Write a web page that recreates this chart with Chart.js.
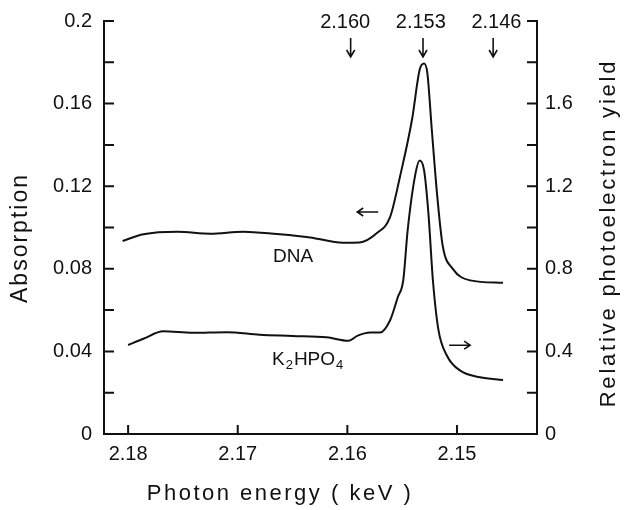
<!DOCTYPE html>
<html>
<head>
<meta charset="utf-8">
<script src="https://cdn.jsdelivr.net/npm/chart.js@4"></script>
<style>
  html, body { margin: 0; padding: 0; background: #fff; }
</style>
</head>
<body>
<canvas id="chart" width="625" height="510"></canvas>
<script>
// DNA absorption (left axis)
const dnaEnergy = [2.1805, 2.1786, 2.1755, 2.1725, 2.1695, 2.1664, 2.1634, 2.1604, 2.1589, 2.1573, 2.1561,
  2.1552, 2.1541, 2.1534, 2.1530, 2.1527, 2.1523, 2.1518, 2.1513, 2.1504, 2.1488, 2.1458];
const dnaAbsorption = [0.0935, 0.0967, 0.0979, 0.0970, 0.0980, 0.0968, 0.0952, 0.0926, 0.0927, 0.0973, 0.1051,
  0.1246, 0.1523, 0.1765, 0.1794, 0.1746, 0.1476, 0.1152, 0.0911, 0.0801, 0.0744, 0.0732];

// K2HPO4 relative photoelectron yield (right axis)
const k2Energy = [2.1800, 2.1786, 2.1768, 2.1741, 2.1710, 2.1680, 2.1650, 2.1619, 2.1599, 2.1591, 2.1579,
  2.1570, 2.1561, 2.1554, 2.1549, 2.1545, 2.1538, 2.1534, 2.1530, 2.1526, 2.1522, 2.1517, 2.1509, 2.1497,
  2.1479, 2.1458];
const k2Yield = [0.431, 0.461, 0.497, 0.490, 0.493, 0.481, 0.475, 0.468, 0.451, 0.475, 0.491,
  0.492, 0.551, 0.662, 0.745, 0.986, 1.257, 1.324, 1.277, 1.065, 0.747, 0.507, 0.378, 0.307,
  0.275, 0.262];

const xTicks = [2.18, 2.17, 2.16, 2.15];
const leftLabelTicks = [0, 0.04, 0.08, 0.12, 0.16, 0.2];
const leftMinorTicks = [0.02, 0.04, 0.06, 0.08, 0.10, 0.12, 0.14, 0.16, 0.18, 0.2];
const rightLabelTicks = [0, 0.4, 0.8, 1.2, 1.6];
const rightMinorTicks = [0.2, 0.4, 0.6, 0.8, 1.0, 1.2, 1.4, 1.6, 1.8, 2.0];
const markerLabels = ['2.160', '2.153', '2.146'];
// where the printed markers sit on the energy axis (arrow, label centre)
const markerArrowAt = [2.1597, 2.1531, 2.1467];
const markerLabelAt = [2.1602, 2.1533, 2.1464];

const ink = '#111';
Chart.defaults.font.family = "'Liberation Sans', Arial, sans-serif";
Chart.defaults.color = ink;

function spacedText(ctx, text, x, y, spacing) {
  ctx.letterSpacing = spacing + 'px';
  ctx.fillText(text, x, y);
  ctx.letterSpacing = '0px';
}

// inward ticks, energy markers, arrows, labels and axis titles
const decor = {
  id: 'decor',
  afterDraw(chart) {
    const { ctx, chartArea: a, scales: { x, y, y2 } } = chart;
    ctx.save();
    ctx.strokeStyle = ink;
    ctx.fillStyle = ink;
    ctx.lineWidth = 2;

    ctx.beginPath();
    leftMinorTicks.forEach(v => {
      const py = y.getPixelForValue(v);
      ctx.moveTo(a.left, py); ctx.lineTo(a.left + 10, py);
    });
    rightMinorTicks.forEach(v => {
      const py = y2.getPixelForValue(v);
      ctx.moveTo(a.right, py); ctx.lineTo(a.right - 10, py);
    });
    xTicks.forEach(v => {
      const px = x.getPixelForValue(v);
      ctx.moveTo(px, a.bottom); ctx.lineTo(px, a.bottom - 9);
    });
    ctx.stroke();

    // energy markers on top
    ctx.font = "20px 'Liberation Sans', Arial, sans-serif";
    ctx.textAlign = 'center';
    ctx.textBaseline = 'middle';
    ctx.lineWidth = 1.6;
    markerLabels.forEach((lab, i) => {
      ctx.fillText(lab, x.getPixelForValue(markerLabelAt[i]), 22);
      const px = x.getPixelForValue(markerArrowAt[i]);
      ctx.beginPath();
      ctx.moveTo(px, 38); ctx.lineTo(px, 57);
      ctx.moveTo(px - 4, 50); ctx.lineTo(px, 57); ctx.lineTo(px + 4, 50);
      ctx.stroke();
    });

    // axis arrows
    const ax1 = x.getPixelForValue(2.1591), ay1 = y.getPixelForValue(0.1075);
    ctx.beginPath();
    ctx.moveTo(ax1, ay1); ctx.lineTo(ax1 + 21, ay1);
    ctx.moveTo(ax1 + 6, ay1 - 4); ctx.lineTo(ax1, ay1); ctx.lineTo(ax1 + 6, ay1 + 4);
    ctx.stroke();
    const ax2 = x.getPixelForValue(2.1488), ay2 = y2.getPixelForValue(0.43);
    ctx.beginPath();
    ctx.moveTo(ax2 - 21, ay2); ctx.lineTo(ax2, ay2);
    ctx.moveTo(ax2 - 6, ay2 - 4); ctx.lineTo(ax2, ay2); ctx.lineTo(ax2 - 6, ay2 + 4);
    ctx.stroke();

    // curve labels
    ctx.textAlign = 'left';
    ctx.textBaseline = 'alphabetic';
    ctx.font = "19px 'Liberation Sans', Arial, sans-serif";
    ctx.fillText('DNA', 273, 262);
    let kx = 272;
    const parts = [['K', 19, 0], ['2', 13, 4], ['HPO', 19, 0], ['4', 13, 4]];
    parts.forEach(([t, size, drop]) => {
      ctx.font = size + "px 'Liberation Sans', Arial, sans-serif";
      ctx.fillText(t, kx, 365 + drop);
      kx += ctx.measureText(t).width + 1;
    });

    // axis titles
    ctx.textAlign = 'center';
    ctx.font = "22px 'Liberation Sans', Arial, sans-serif";
    spacedText(ctx, 'Photon energy ( keV )', 280, 500, 2.5);

    ctx.textBaseline = 'middle';
    ctx.save();
    ctx.translate(21, 238);
    ctx.rotate(-Math.PI / 2);
    ctx.font = "23px 'Liberation Sans', Arial, sans-serif";
    spacedText(ctx, 'Absorption', 0, 0, 2);
    ctx.restore();

    ctx.save();
    ctx.translate(609, 233);
    ctx.rotate(-Math.PI / 2);
    ctx.font = "22px 'Liberation Sans', Arial, sans-serif";
    spacedText(ctx, 'Relative photoelectron yield', 0, 0, 2.8);
    ctx.restore();

    ctx.restore();
  }
};

const lineStyle = {
  borderColor: ink,
  borderWidth: 2,
  pointRadius: 0,
  fill: false,
  cubicInterpolationMode: 'monotone'
};

new Chart(document.getElementById('chart'), {
  type: 'line',
  data: {
    datasets: [
      { ...lineStyle, label: 'DNA', yAxisID: 'y',
        data: dnaEnergy.map((e, i) => ({ x: e, y: dnaAbsorption[i] })) },
      { ...lineStyle, label: 'K2HPO4', yAxisID: 'y2',
        data: k2Energy.map((e, i) => ({ x: e, y: k2Yield[i] })) }
    ]
  },
  options: {
    responsive: false,
    animation: false,
    layout: { padding: { top: 21, left: 0, right: 0, bottom: 0 } },
    plugins: { legend: { display: false }, tooltip: { enabled: false } },
    scales: {
      x: {
        type: 'linear',
        reverse: true,
        min: 2.1427,
        max: 2.1822,
        afterBuildTicks: s => { s.ticks = xTicks.map(v => ({ value: v })); },
        afterFit: s => { s.height = 76; },
        grid: { display: false },
        border: { color: ink, width: 2 },
        ticks: { font: { size: 20 }, padding: 0, maxRotation: 0, callback: v => v.toFixed(2) }
      },
      y: {
        position: 'left',
        min: 0,
        max: 0.2,
        afterBuildTicks: s => { s.ticks = leftLabelTicks.map(v => ({ value: v })); },
        afterFit: s => { s.width = 104; },
        grid: { display: false },
        border: { color: ink, width: 2 },
        ticks: { font: { size: 20 }, padding: 4, callback: v => String(+v.toFixed(2)) }
      },
      y2: {
        position: 'right',
        min: 0,
        max: 2,
        afterBuildTicks: s => { s.ticks = rightLabelTicks.map(v => ({ value: v })); },
        afterFit: s => { s.width = 88; },
        grid: { display: false },
        border: { color: ink, width: 2 },
        ticks: { font: { size: 20 }, padding: 0, callback: v => v === 0 ? '0' : v.toFixed(1) }
      }
    }
  },
  plugins: [decor]
});
</script>
</body>
</html>
